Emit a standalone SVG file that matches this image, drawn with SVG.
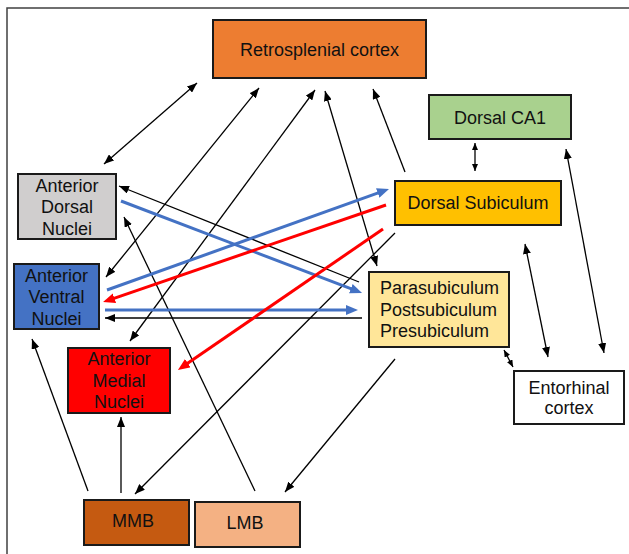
<svg xmlns="http://www.w3.org/2000/svg" width="629" height="554" viewBox="0 0 629 554">
<style>
.box{stroke:#1a1a1a;stroke-width:2}
text{font-family:"Liberation Sans",Arial,sans-serif;font-size:18px;fill:#111}
.c{text-anchor:middle}
.k{stroke:#000;stroke-width:1.3;fill:none}
.b{stroke:#4472C4;stroke-width:3;fill:none}
.r{stroke:#FF0000;stroke-width:3;fill:none}
</style>
<defs>
<marker id="ak" markerUnits="userSpaceOnUse" markerWidth="10" markerHeight="8" refX="10" refY="4" orient="auto-start-reverse"><path d="M0,0 L10,4 L0,8 z" fill="#000"/></marker>
<marker id="as" markerUnits="userSpaceOnUse" markerWidth="7" markerHeight="6" refX="7" refY="3" orient="auto-start-reverse"><path d="M0,0 L7,3 L0,6 z" fill="#000"/></marker>
<marker id="ab" markerUnits="userSpaceOnUse" markerWidth="12" markerHeight="10" refX="2" refY="5" orient="auto"><path d="M0,0 L12,5 L0,10 z" fill="#4472C4"/></marker>
<marker id="ar" markerUnits="userSpaceOnUse" markerWidth="12" markerHeight="10" refX="2" refY="5" orient="auto"><path d="M0,0 L12,5 L0,10 z" fill="#FF0000"/></marker>
</defs>
<rect width="629" height="554" fill="#fff"/>
<rect x="7" y="8" width="650" height="570" fill="none" stroke="#404040" stroke-width="1.5"/>

<g id="connectors">
<line class="k" x1="104" y1="164" x2="197" y2="83" marker-start="url(#ak)" marker-end="url(#ak)"/>
<line class="k" x1="106" y1="277" x2="259" y2="88" marker-start="url(#ak)" marker-end="url(#ak)"/>
<line class="k" x1="130" y1="341" x2="315" y2="90" marker-start="url(#ak)" marker-end="url(#ak)"/>
<line class="k" x1="377" y1="266" x2="325" y2="91" marker-start="url(#ak)" marker-end="url(#ak)"/>
<line class="k" x1="405" y1="172" x2="373" y2="89" marker-end="url(#ak)"/>
<line class="k" x1="475" y1="171" x2="475" y2="143" marker-start="url(#as)" marker-end="url(#as)"/>
<line class="k" x1="604" y1="353" x2="566" y2="149" marker-start="url(#ak)" marker-end="url(#ak)"/>
<line class="k" x1="548" y1="357" x2="525" y2="244" marker-start="url(#ak)" marker-end="url(#ak)"/>
<line class="k" x1="513" y1="367" x2="504" y2="350" marker-start="url(#as)" marker-end="url(#as)"/>
<line class="k" x1="359" y1="282" x2="119" y2="186" marker-end="url(#ak)"/>
<line class="k" x1="362" y1="318" x2="105" y2="318" marker-end="url(#ak)"/>
<line class="k" x1="395" y1="233" x2="135" y2="494" marker-end="url(#ak)"/>
<line class="k" x1="395" y1="359" x2="285" y2="492" marker-end="url(#ak)"/>
<line class="k" x1="255" y1="491" x2="124" y2="217" marker-end="url(#ak)"/>
<line class="k" x1="88" y1="491" x2="32" y2="339" marker-end="url(#ak)"/>
<line class="k" x1="121" y1="493" x2="121" y2="417" marker-end="url(#ak)"/>
<line class="b" x1="121" y1="201" x2="352.7" y2="289.4" marker-end="url(#ab)"/>
<line class="b" x1="107" y1="290" x2="379.6" y2="192.4" marker-end="url(#ab)"/>
<line class="b" x1="105" y1="310" x2="348" y2="310" marker-end="url(#ab)"/>
<line class="r" x1="386" y1="205" x2="112.5" y2="298.8" marker-end="url(#ar)"/>
<line class="r" x1="383" y1="229" x2="186.2" y2="364.3" marker-end="url(#ar)"/>
</g>

<g id="retrosplenial">
<rect class="box" x="213" y="20" width="213" height="58" fill="#ED7D31"/>
<text class="c" x="319.5" y="56">Retrosplenial cortex</text>
</g>
<g id="dorsal-ca1">
<rect class="box" x="429" y="95" width="142" height="44" fill="#A9D18E"/>
<text class="c" x="500" y="124">Dorsal CA1</text>
</g>
<g id="dorsal-subiculum">
<rect class="box" x="395" y="181" width="166" height="44" fill="#FFC000"/>
<text class="c" x="478" y="209">Dorsal Subiculum</text>
</g>
<g id="anterior-dorsal">
<rect class="box" x="18" y="174" width="98" height="65" fill="#D0CECE"/>
<text class="c" x="67" y="192">Anterior</text>
<text class="c" x="67" y="213">Dorsal</text>
<text class="c" x="67" y="235">Nuclei</text>
</g>
<g id="anterior-ventral">
<rect class="box" x="14" y="264" width="85" height="65" fill="#4472C4"/>
<text class="c" x="56.5" y="282">Anterior</text>
<text class="c" x="56.5" y="303">Ventral</text>
<text class="c" x="56.5" y="325">Nuclei</text>
</g>
<g id="anterior-medial">
<rect class="box" x="68" y="348" width="102" height="65" fill="#FF0000"/>
<text class="c" x="119" y="365">Anterior</text>
<text class="c" x="119" y="387">Medial</text>
<text class="c" x="119" y="408">Nuclei</text>
</g>
<g id="parasubiculum">
<rect class="box" x="369" y="272" width="140" height="75" fill="#FFE699"/>
<text x="380" y="294">Parasubiculum</text>
<text x="380" y="316">Postsubiculum</text>
<text x="380" y="337">Presubiculum</text>
</g>
<g id="entorhinal">
<rect class="box" x="514" y="371" width="110" height="53" fill="#fff"/>
<text class="c" x="569" y="394">Entorhinal</text>
<text class="c" x="569" y="414">cortex</text>
</g>
<g id="mmb">
<rect class="box" x="84" y="500" width="105" height="45" fill="#C55A11"/>
<text class="c" x="133" y="527">MMB</text>
</g>
<g id="lmb">
<rect class="box" x="195" y="502" width="105" height="45" fill="#F4B183"/>
<text class="c" x="245" y="529">LMB</text>
</g>
</svg>
